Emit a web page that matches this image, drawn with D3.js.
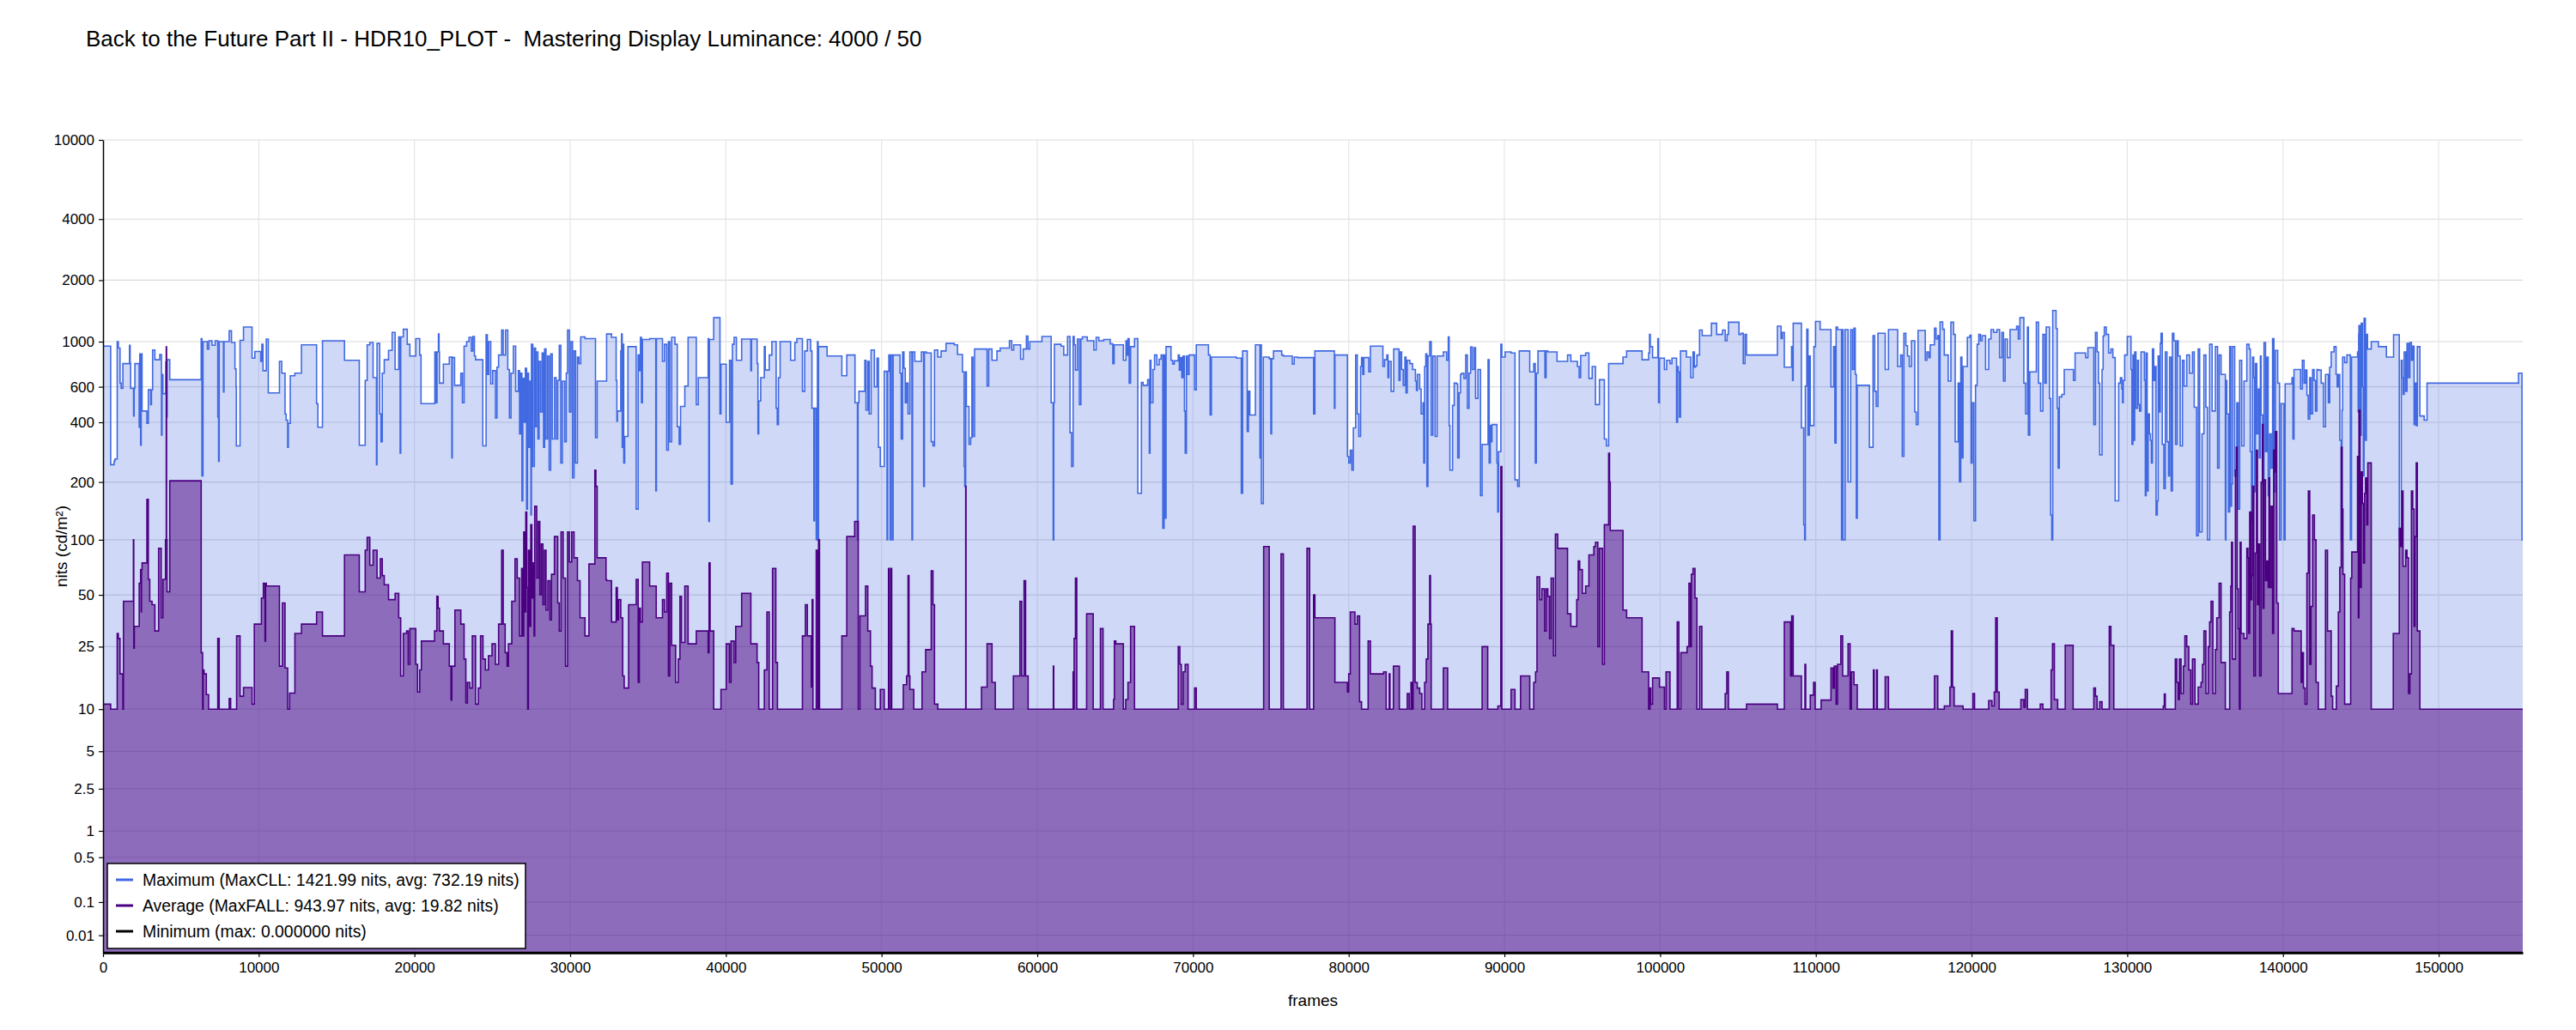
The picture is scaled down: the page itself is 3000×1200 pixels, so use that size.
<!doctype html>
<html lang="en">
<head>
  <meta charset="utf-8">
  <title>HDR10 plot</title>
  <style>
    body { margin: 0; background: #fff; }
    svg text { font-family: "Liberation Sans", Arial, sans-serif; fill: #000; }
  </style>
</head>
<body>
<div id="chart"></div>

<script src="https://cdnjs.cloudflare.com/ajax/libs/d3/7.8.5/d3.min.js"></script>
<script>

// ---- data ----
const title = "Back to the Future Part II - HDR10_PLOT -  Mastering Display Luminance: 4000 / 50"
const frameCount = 155400
const yTicks = [10000, 4000, 2000, 1000, 600, 400, 200, 100, 50, 25, 10, 5, 2.5, 1, 0.5, 0.1, 0.01]
const xTicks = [0, 10000, 20000, 30000, 40000, 50000, 60000, 70000, 80000, 90000, 100000, 110000, 120000, 130000, 140000, 150000]
const legendLabels = [
  "Maximum (MaxCLL: 1421.99 nits, avg: 732.19 nits)",
  "Average (MaxFALL: 943.97 nits, avg: 19.82 nits)",
  "Minimum (max: 0.000000 nits)"
]

// [frame, nits] breakpoints, value holds until the next frame
const maxSeries = [[0,950],[490,245],[710,255],[760,262],[910,1000],[980,930],[1090,625],[1165,590],[1275,780],[1700,960],[1740,780],[1771,590],[1960,430],[2000,590],[2046,780],[2321,378],[2360,870],[2413,307],[2450,870],[2505,455],[2817,395],[2909,580],[3060,490],[3110,580],[3184,910],[3330,815],[3643,865],[3753,345],[3790,690],[3845,555],[4028,795],[4080,425],[4120,815],[4285,650],[6303,1035],[6350,215],[6420,1000],[6700,920],[6800,1010],[7000,960],[7200,1010],[7368,425],[7420,255],[7460,1000],[7735,565],[7770,1000],[8102,1130],[8249,990],[8469,735],[8542,600],[8561,305],[8799,1015],[9020,1180],[9570,830],[9750,895],
  [10127,800],[10200,970],[10274,720],[10485,1030],[10612,560],[11329,800],[11477,700],[11688,440],[11760,410],[11857,300],[11900,395],[12026,680],[12321,700],[12743,965],[13714,495],[13798,378],[14093,1010],[15507,810],[16457,307],[16836,645],[16963,965],[17132,990],[17343,665],[17560,245],[17596,980],[17765,440],[17850,320],[17934,700],[18060,815],[18335,905],[18567,1110],[18757,730],[18989,1055],[19080,280],[19120,1055],[19284,1150],[19537,970],[19706,850],[20086,1035],[20339,860],[20423,495],[21310,890],[21400,500],[21450,890],[21540,1090],[21580,890],[21605,625],[21858,775],[22238,840],[22400,265],[22430,840],[22449,835],[22576,610],[22977,700],[23080,500],[23188,950],[23350,1000],[23504,1050],[23650,900],[23750,1060],[23850,850],[23926,815],[24390,305],[24601,1080],[24680,690],[24770,1000],[24900,620],[25023,720],[25200,420],[25300,750],[25403,860],[25600,1140],[25700,860],[25850,1140],[25994,730],[26100,420],[26200,700],[26353,950],[26500,570],[26669,720],
  [26750,350],[26820,700],[26900,160],[26960,660],[27050,400],[27120,740],[27200,145],[27260,700],[27330,300],[27420,640],[27480,135],[27513,970],[27600,240],[27700,930],[27780,380],[27830,890],[27930,330],[28000,800],[28100,450],[28200,880],[28290,300],[28357,920],[28450,330],[28550,850],[28650,230],[28750,870],[28850,330],[28990,665],[29100,330],[29201,645],[29300,960],[29400,250],[29500,640],[29650,320],[29750,700],[29834,1140],[29950,450],[30050,1000],[30150,210],[30250,900],[30350,250],[30467,840],[30560,780],[30678,1055],[30952,1035],[31627,335],[31733,640],
  [32341,1090],[32657,1050],[32953,645],[33000,405],[33037,455],[33248,900],[33300,1090],[33340,300],[33375,970],[33440,250],[33501,340],[33712,945],[34240,145],[34366,860],[34440,720],[34514,1050],[34580,500],[34641,1025],[35105,1035],[35500,180],[35540,1035],[35928,800],[36055,970],[36200,290],[36308,1000],[36400,320],[36519,1050],[36730,970],[36877,380],[37000,310],[37088,480],[37363,605],[37574,1050],[38101,490],[38228,665],[38861,1035],[38900,125],[38945,1025],[39219,1310],[39620,440],[39684,775],[40021,400],[40232,810],[40330,195],[40422,970],[40528,1050],[40675,810],[41013,1030],[41600,720],[41650,1030],[42005,780],[42060,350],[42110,510],[42237,665],[42469,945],[42530,725],[42595,725],[42785,860],[42954,1000],[43228,470],[43300,390],[43376,665],[43482,1000],[44157,810],[44431,990],[44558,1035],[44916,570],[45064,900],[45233,1025],[45444,900],[45528,470],[45650,126],[45700,470],[45803,100],[45880,1000],[45920,100],[45950,945],[46499,850],[47448,680],[47765,860],[48292,500],[48450,100],[48490,500],[48546,570],[48925,810],[49000,460],[49115,800],[49200,440],[49326,910],[49537,600],[49706,830],[49800,300],[49917,240],[50170,715],[50350,100],[50390,715],[50466,860],[50550,100],[50600,860],[50700,100],[50740,860],[51183,700],[51260,330],[51352,890],[51436,740],[51520,500],[51605,625],[51700,440],[51816,890],[51950,100],[51990,890],[52133,800],[52555,890],[52700,190],[52750,890],[52871,880],[53188,320],[53300,305],[53399,910],[53610,840],[53821,900],[54137,980],[54665,965],[54876,865],[55192,710],[55300,240],[55340,190],[55400,710],[55445,480],[55614,310],[55720,335],[55800,840],[55867,340],[55973,920],[56775,605],[56880,920],[57091,810],[57408,900],[57619,930],[58210,1010],[58357,910],[58484,965],[58927,820],[59096,920],[59300,1065],[59400,920],[59518,1000],[60298,1060],[60889,500],[61020,100],[61060,500],[61100,970],[61522,950],[61700,860],[61944,1060],[62100,355],[62200,240],[62300,1060],[62366,965],[62450,725],[62577,1030],[62700,490],[62800,1030],[62894,1055],[63210,1010],[63632,910],[63780,1050],[63950,1010],[64054,1010],[64265,1025],[64687,975],[64850,780],
  [64936,965],[65527,810],[65696,1010],[65760,860],[65822,1035],[65900,625],[65991,945],[66244,1035],[66455,175],[66687,630],[66793,610],[67088,650],[67194,280],[67240,810],[67299,500],[67426,730],[67531,860],[67679,770],[67827,820],[67953,860],[68059,115],[68143,860],[68210,130],[68270,945],[68586,810],[68692,775],[68797,805],[69051,860],[69120,725],[69199,835],[69280,665],[69367,850],[69450,455],[69500,280],[69578,850],[69650,690],[69747,860],[70106,580],[70211,965],[70992,860],[71100,435],[71182,840],[72785,830],[73102,175],[73186,900],[73482,360],[73560,570],[73650,435],[74009,965],[74300,265],[74340,965],[74389,155],[74515,840],[74895,825],[75000,350],[75050,825],[75170,900],[75697,860],[75803,850],[76372,775],[76499,840],[76710,835],[77744,440],[77828,900],[79080,470],[79115,860],[79917,270],[80000,250],[80100,290],[80200,230],[80297,375],[80445,860],[80550,440],[80650,340],[80761,755],[80824,835],[80900,690],[80972,835],[81289,710],[81394,950],[82196,755],[82300,815],[82449,860],[82520,665],[82576,800],[82723,570],[82892,920],[83230,645],[83300,890],[83399,730],[83500,610],[83610,840],[83680,560],[83757,810],[83926,780],[84100,730],[84285,640],[84350,575],[84411,690],[84559,585],[84650,440],[84770,500],[84820,250],[84876,755],[84950,870],[85020,190],[85087,850],[85200,1000],[85300,345],[85403,850],[85550,340],[85677,850],[86078,890],[86289,810],[86395,1055],[86450,385],[86500,230],[86669,485],[86775,625],[86922,620],[87000,265],[87091,560],[87180,690],[87260,700],[87400,660],[87513,860],[87620,470],[87724,700],[87830,940],[87935,730],[88050,935],[88146,525],[88300,730],[88463,170],[88568,310],[88948,815],[89020,250],[89096,385],[89150,320],[89201,390],[89518,250],[89570,140],[89623,285],[89771,970],[89834,840],[90045,890],[90425,880],[90678,205],[90847,190],[90952,900],[91627,710],[91881,780],[91980,250],[92050,700],[92155,900],[92600,665],[92680,900],[92788,890],[93379,800],[94054,860],[94265,800],[94687,755],[94800,665],[94898,855],[95215,880],[95426,660],[95637,755],[95848,490],[96101,650],[96417,330],[96550,305],[96692,780],
  [97616,840],[97848,900],[98840,815],[99262,880],[99320,1085],[99367,945],[99515,835],[99852,1035],[99900,500],[99958,830],[100274,730],[100422,810],[100633,780],[100760,830],[101055,400],[101120,755],[101160,710],[101240,425],[101308,900],[101688,840],[101962,665],[102110,890],[102200,750],[102279,760],[102363,860],[102532,1140],[102701,1070],[103292,1230],[103629,1085],[104009,1140],[104178,1010],[104300,1085],[104389,1245],[105064,1085],[105200,1100],[105338,780],[105450,1085],[105549,860],[107533,1190],[107765,1035],[107849,1110],[107976,750],[108440,945],[108500,645],[108546,1230],[109073,375],[109221,120],[109280,100],[109326,605],[109420,1150],[109495,345],[109580,850],[109643,385],[109875,945],[109980,1255],[110276,1145],[110972,600],[111141,945],[111220,315],[111300,1180],[111394,1145],[111650,100],[111700,1145],[111753,100],[111879,1145],[112069,200],[112238,1145],[112350,730],[112449,1165],[112530,690],[112600,130],[112660,610],[113441,300],[113673,1070],[113780,570],[113880,480],[113989,1100],[114454,730],[114665,1145],[115255,755],[115445,860],[115550,270],[115656,1100],[115780,955],[115888,850],[116000,755],[116142,1010],[116353,450],[116450,390],[116564,1135],[117028,810],[117133,890],[117250,835],[117344,965],[117619,1165],[117720,1030],[117830,1070],[117900,100],[117977,1250],[118146,1150],[118250,860],[118399,860],[118500,640],[118674,1245],[118842,1085],[118950,320],[119138,625],[119220,200],[119307,840],[119380,265],[119454,755],[119729,1050],[119897,1075],[119970,250],[120045,500],[120150,126],[120256,610],[120360,970],[120467,1085],[120570,1010],[120678,1070],[120900,730],[121100,1030],[121250,1145],[121417,1110],[121628,1145],[121800,835],[121944,1110],[122050,640],[122155,1030],[122300,835],[122472,1145],[122894,1190],[123000,1030],[123105,1310],[123358,625],[123470,440],[123590,1180],[123650,345],[123738,710],[124160,1245],[124300,625],[124434,455],[124582,1085],[124700,625],[124793,1180],[125004,525],[125080,135],[125150,100],[125215,1420],[125426,1160],[125500,470],[125560,235],[125637,535],[125800,550],[125953,730],[126544,645],[126649,880],[127325,835],[127472,935],[127852,390],[127958,1110],[128063,890],[128150,625],[128232,275],[128380,730],[128450,1065],[128527,1180],[128650,1085],[128802,880],[128950,920],[129076,835],[129224,160],[129449,625],[129559,665],[129651,585],[129700,500],[129743,645],[129835,860],
  [130000,1060],[130239,730],[130300,310],[130367,860],[130420,325],[130478,890],[130560,470],[130661,810],[130720,490],[130790,455],[130882,890],[131102,645],[131160,170],[131212,880],[131280,180],[131341,440],[131420,350],[131488,325],[131550,250],[131617,920],[131700,645],[131764,755],[131850,135],[131930,160],[131984,850],[132060,450],[132120,980],[132168,1100],[132250,310],[132350,185],[132443,890],[132550,320],[132650,215],[132719,840],[132820,180],[132900,1100],[132994,1010],[133100,310],[133200,1010],[133270,850],[133400,305],[133545,810],[133650,605],[133821,860],[134000,700],[134188,890],[134300,475],[134450,105],[134556,920],[134650,110],[134800,350],[134923,860],[135050,475],[135150,100],[135291,970],[135450,455],[135658,945],[135800,235],[135900,860],[136025,690],[136301,100],[136340,645],[136393,440],[136500,140],[136577,945],[136650,150],[136700,195],[136760,945],[136900,215],[137036,500],[137120,145],[137219,810],[137350,305],[137495,640],[137679,970],[137826,920],[137900,285],[137980,126],[138046,840],[138120,665],[138180,178],[138230,780],[138320,350],[138413,585],[138480,265],[138550,850],[138597,435],[138700,195],[138781,990],[138880,285],[138964,840],[139050,170],[139148,350],[139240,235],[139332,1035],[139420,178],[139516,905],[139663,625],[139780,100],[139883,495],[140067,100],[140140,620],[140581,665],[140640,330],[140710,730],[141132,585],[141243,810],[141353,625],[141450,725],[141536,545],[141620,415],[141720,665],[141800,440],[141904,730],[142000,645],[142087,455],[142180,730],[142271,725],[142455,625],[142600,380],[142730,690],[142914,500],[143000,750],[143098,890],[143282,945],[143410,690],[143480,600],[143557,690],[143650,325],[143741,100],[143790,460],[143833,840],[143961,790],[144108,860],[144329,100],[144402,840],[144788,890],[144830,450],[144860,1085],[144880,1200],[144950,345],[145027,1230],[145100,600],[145160,215],[145210,1300],[145290,325],[145357,1085],[145431,920],[145670,1000],[146129,945],[146643,840],[147103,1080],[147470,100],[147598,810],[147660,665],[147720,550],[147782,890],[147880,570],[147966,980],[148060,665],[148150,990],[148250,810],[148333,950],[148420,390],[148480,625],[148560,385],[148627,945],[148793,430],[149068,410],[149252,625],[155130,700],[155350,100],[155400,100]]

const avgSeries = [[0,10.8],[490,10],[910,30],[980,28],[1090,17],[1275,10],[1312,46],[1950,100],[1975,24.5],[2010,33],[2321,58],[2413,69],[2450,40],[2470,69],[2505,75],[2817,163],[2909,61],[3000,46],[3148,44],[3330,31],[3569,90],[3735,37],[3845,61],[4010,100],[4060,944],[4080,100],[4110,52],[4285,203],[6303,23],[6395,10],[6430,18],[6487,17],[6634,12.5],[6780,10],[7368,28],[7460,10],[8102,11.8],[8195,10],[8579,29],[8799,12.2],[9020,13.9],[9570,10.8],[9716,34],
  [10169,48],[10295,58],[10400,27],[10440,58],[10485,56],[11329,19],[11519,45],[11688,18.5],[11857,10],[11983,12.8],[12321,30],[12743,34],[13714,40],[14093,29],[15507,83],[16457,52],[16836,88],[16963,103],[17132,73],[17343,88],[17596,62],[17807,79],[17934,64],[18060,57],[18335,47],[18757,51],[18989,37],[19115,16.5],[19284,30],[19495,31],[19600,19.5],[19706,32],[20086,19.5],[20200,13],[20339,18],[20445,27],[21289,31],[21436,49],[21520,42],[21605,31],[21858,26],[22238,19],[22350,11.5],[22400,19],[22597,41],[22977,34],[23188,21],[23300,11],[23399,15],[23550,13.8],[23715,29],[23926,10.8],[24100,13.8],[24243,29],[24400,21],[24559,18],[24750,22],[24981,26],[25200,19.5],[25403,34],[25600,88],[25700,34],[25825,23],[25950,19],[26036,26],[26250,46],[26458,79],[26600,62],[26750,29],
  [26880,70],[26950,29],[27020,110],[27090,40],[27150,140],[27210,55],[27270,10],[27320,88],[27400,33],[27470,120],[27540,48],[27620,75],[27680,29],[27724,150],[27850,62],[27950,125],[28050,50],[28146,95],[28250,44],[28350,88],[28450,41],[28568,60],[28700,36],[28800,65],[28990,104],[29201,45],[29300,31],[29412,110],[29550,62],[29700,19],[29834,110],[29950,76],[30100,110],[30250,80],[30467,60],[30636,37],[30952,29],[31205,74],[31585,230],[31650,190],[31733,80],[32303,61],
  [32341,60],[32657,35],[32953,55],[33030,36],[33101,47],[33250,37],[33375,16.5],[33470,13.8],[33754,44],[34240,61],[34366,15],[34440,42],[34514,35],[34641,76],[35105,56],[35527,37],[35928,47],[36055,40],[36200,66],[36308,16.5],[36400,58],[36519,25.5],[36772,15],[36941,21],[37050,49],[37152,26.5],[37363,56],[37574,26],[38101,31],[38861,23],[38920,75],[38987,31],[39219,10],[39684,13.5],[40021,26],[40232,15],[40330,27],[40530,20],[40633,33],[41013,51],[41604,26],[42005,20],[42110,10],[42469,18],[42638,40],[42785,10],[42996,70],[43207,20],[43313,10],[44916,29],[45106,44],[45233,29],[45486,14],[45540,47],[45592,10],[45803,88],[45900,10],[45950,100],[46014,10],[47448,29],[47765,104],[48271,125],[48503,10],[48609,38],[48968,56],[49115,31],[49284,19],[49390,13.8],[49600,10],[49917,13.5],[50170,10],[50445,70],[50500,10],[50600,70],[50650,10],[51394,14.5],[51605,16.5],[51700,64],[51760,16.5],[51816,13.5],[52069,10],[52597,17.5],[52829,24],[53188,68],[53300,44],[53399,10.8],[53610,10],[55403,190],[55424,10],[56416,14],[56775,26],[57091,15],[57302,10],[58463,16.5],[58885,46],[59000,16.5],[59150,60],[59250,16.5],[59412,10],[61030,19],[61058,10],[62300,17.5],[62324,10],[62366,28],[62450,62],[62535,10],[63168,39],[63590,10],[64054,32],[64223,10],[64898,11.6],[64950,27],
  [65042,26],[65527,10],[65675,11.6],[65822,15],[65991,33],[66244,10],[69051,25],[69156,19.5],[69250,10.8],[69367,17.5],[69500,19.5],[69684,10],[70106,13.8],[70211,10],[74537,92],[74895,10],[75655,84],[75803,10],[77322,90],[77491,10],[77744,50],[77828,37],[79115,15],[79917,13],[80000,17],[80100,40],[80400,34],[80550,38],[80698,11.2],[80824,10],[81247,27],[81394,17],[82238,17.5],[82407,10],[82600,17],[82650,10],[82871,19],[83251,10],[83757,12.7],[83884,10],[84000,15],[84050,10],[84137,118],[84264,15],[84400,13.8],[84559,12.7],[84700,10],[84876,15],[84980,21],[85087,34],[85200,64],[85250,34],[85298,10],[86078,18.5],[86353,10],[88568,25],[88927,10],[89581,10.5],[89771,240],[89834,10],[90425,13.5],[90678,10],[91037,16.5],[91627,10],[91881,15],[92000,17.5],[92092,63],[92261,47],[92400,54],[92577,31],[92680,54],[92788,49],[92900,28],[92999,62],[93147,22],[93273,107],[93421,90],[94054,39],[94265,33],[94645,47],[94740,77],[94835,69],[95004,51],[95215,56],[95426,83],[95742,92],[95848,97],[96000,25],[96101,90],[96300,19.5],[96417,120],[96692,280],[96750,200],[96797,112],
  [97616,41],[97848,37],[98840,17.5],[99262,10],[99350,13.8],[99400,10.8],[99515,16],[99958,14],[100274,10],[100380,17.5],[100633,10],[101097,35],[101203,10],[101329,23],[101730,25],[101850,58],[101950,25],[102005,65],[102110,70],[102237,48],[102363,10],[102532,33],[102680,10],[104178,12.7],[104280,17.5],[104389,10],[105549,10.8],[107533,10],[107976,35],[108377,16.5],[108450,38],[108546,16.5],[109073,10],[109300,19.5],[109350,10],[109643,12.4],[109854,15],[109959,10],[110339,11.5],[110972,18.5],[111100,13.8],[111183,19],[111300,10.8],[111394,19.5],[111605,29],[111720,16.5],[112069,26],[112200,10],[112280,17.5],[112450,14.5],[112660,10],[113700,18],[113750,10],[113900,18],[113950,10],[114454,16.3],[114665,10],[117619,16.5],[117830,10],[118252,10.5],[118610,14],[118700,31],[118780,14],[118884,10.5],[119454,10],[120087,12.7],[120193,10],[121100,11.4],[121311,10.5],[121459,13],[121550,37],[121650,13],[121775,10],[123168,11.6],[123358,10.3],[123450,13.5],[123590,10],[124413,10.8],[124582,10],[125109,18],[125200,26],[125320,11.6],[125531,10],[126016,25.5],[126523,10],[127852,13.8],[127958,12.2],[128063,10],[128232,11.2],[128380,10],[128844,33],[128949,25.5],[129137,10],
  [132315,10.5],[132380,12.6],[132443,10],[133086,21],[133180,15],[133280,11.6],[133350,21],[133454,12.7],[133600,19],[133700,29],[133821,25],[133950,18],[134080,10.8],[134188,21],[134350,10.8],[134556,14],[134740,15],[134830,19.5],[134923,31],[135050,12.7],[135199,25],[135290,35],[135382,46],[135500,12.7],[135658,24],[135750,37],[135900,58],[136025,20],[136300,10],[136577,40],[136650,56],[136700,97],[136760,21],[136944,230],[137000,300],[137060,54],[137128,32],[137200,10],[137250,97],[137311,30],[137495,28],[137679,90],[137750,80],[137800,30],[137862,140],[137950,47],[138000,64],[138046,190],[138130,16.5],[138230,85],[138300,290],[138360,44],[138413,95],[138500,16.5],[138597,200],[138680,390],[138720,42],[138781,205],[138880,60],[138964,77],[139050,55],[139100,210],[139148,55],[139240,150],[139332,30],[139400,290],[139450,225],[139516,360],[139600,45],[139700,12.7],[140581,32],[140710,31],[141169,15],[141250,23],[141316,13.8],[141420,10.8],[141536,66],[141630,180],[141720,19.5],[141800,43],[141904,135],[142020,100],[142124,15],[142271,10],[142730,88],[142859,31],[143098,12.2],[143190,10],[143429,14.2],[143557,40],[143650,71],[143741,300],[143800,145],[143851,65],[143961,10.8],[144347,62],[144420,86],[144788,270],[144840,37],[144880,460],[144950,55],[145027,225],[145100,155],[145174,75],[145240,175],[145302,210],[145380,120],[145449,250],[145670,10],[147084,30],[147470,115],[147550,92],[147635,180],[147710,72],[147782,72],[147880,88],[147966,80],[148060,12.7],[148150,17],[148250,180],[148333,145],[148420,33],[148480,104],[148560,250],[148627,31],[148793,10],[155400,10]]

const minSeries = [[0,0],[155400,0]]

// ---- SMPTE ST 2084 (PQ) inverse EOTF: nits -> signal 0..1 ----
function pq(nits) {
  const m1 = 2610 / 16384, m2 = 2523 / 4096 * 128
  const c1 = 3424 / 4096, c2 = 2413 / 4096 * 32, c3 = 2392 / 4096 * 32
  const p = Math.pow(Math.max(nits, 0) / 10000, m1)
  return Math.pow((c1 + c2 * p) / (1 + c3 * p), m2)
}

const W = 3000, H = 1200
const margin = { top: 163, right: 62, bottom: 90, left: 120 }
const plotBottom = H - margin.bottom
const plotRight = W - margin.right

const x = d3.scaleLinear().domain([0, frameCount]).range([margin.left, plotRight])
const ySig = d3.scaleLinear().domain([0, 1]).range([plotBottom, margin.top])
const y = v => ySig(pq(v))

const svg = d3.select("#chart").append("svg")
  .attr("width", W)
  .attr("height", H)

// title
svg.append("text")
  .attr("x", 100)
  .attr("y", 54)
  .style("font-size", "26px")
  .style("white-space", "pre")
  .text(title)

// grid
const grid = svg.append("g")
grid.selectAll("line.h").data(yTicks).enter().append("line")
  .attr("x1", margin.left).attr("x2", plotRight)
  .attr("y1", d => y(d)).attr("y2", d => y(d))
  .attr("stroke", "#dadada").attr("stroke-width", 1.2)
grid.selectAll("line.v").data(xTicks.slice(1)).enter().append("line")
  .attr("x1", d => x(d)).attr("x2", d => x(d))
  .attr("y1", margin.top).attr("y2", plotBottom)
  .attr("stroke", "#e6e6e6").attr("stroke-width", 1.2)

// series
const area = d3.area()
  .x(d => x(d[0]))
  .y0(plotBottom)
  .y1(d => y(d[1]))
  .curve(d3.curveStepAfter)

const line = d3.line()
  .x(d => x(d[0]))
  .y(d => y(d[1]))
  .curve(d3.curveStepAfter)

const series = [
  { data: maxSeries, color: "#4169e1", fill: 0.25 },
  { data: avgSeries, color: "#4b0082", fill: 0.5 },
  { data: minSeries, color: "#000000", fill: 0.5 }
]

series.forEach(s => {
  svg.append("path")
    .attr("d", area(s.data))
    .attr("fill", s.color)
    .attr("fill-opacity", s.fill)
  svg.append("path")
    .attr("d", line(s.data))
    .attr("fill", "none")
    .attr("stroke", s.color)
    .attr("stroke-width", s.data === minSeries ? 2.5 : 1.6)
})

// axes
const yAxis = d3.axisLeft(ySig)
  .tickValues(yTicks.map(pq))
  .tickFormat((d, i) => yTicks[i])
  .tickSize(5)
  .tickPadding(5)
  .tickSizeOuter(0)

const xAxis = d3.axisBottom(x)
  .tickValues(xTicks)
  .tickFormat(d3.format("d"))
  .tickSize(5)
  .tickPadding(6)
  .tickSizeOuter(0)

const gy = svg.append("g")
  .attr("transform", "translate(" + margin.left + ",0)")
  .call(yAxis)
const gx = svg.append("g")
  .attr("transform", "translate(0," + plotBottom + ")")
  .call(xAxis)

;[gx, gy].forEach(g => {
  g.selectAll("text").style("font-size", "17px").attr("fill", "#000")
  g.selectAll("line").attr("stroke", "#000").attr("stroke-width", 1.2)
  g.select(".domain").attr("stroke", "#000").attr("stroke-width", 1.5)
})
gx.select(".domain").attr("stroke-width", 2.5)

// axis labels
svg.append("text")
  .attr("transform", "translate(78," + ((margin.top + plotBottom) / 2) + ") rotate(-90)")
  .attr("text-anchor", "middle")
  .style("font-size", "19px")
  .text("nits (cd/m²)")

svg.append("text")
  .attr("x", (margin.left + plotRight) / 2)
  .attr("y", 1172)
  .attr("text-anchor", "middle")
  .style("font-size", "19px")
  .text("frames")

// legend
const legend = svg.append("g").attr("transform", "translate(125,1006)")
legend.append("rect")
  .attr("width", 487).attr("height", 99)
  .attr("fill", "#fff")
  .attr("stroke", "#000").attr("stroke-width", 1.5)

series.forEach((s, i) => {
  const cy = 19 + i * 30
  legend.append("line")
    .attr("x1", 10).attr("x2", 30)
    .attr("y1", cy).attr("y2", cy)
    .attr("stroke", s.color).attr("stroke-width", 3)
  legend.append("text")
    .attr("x", 41).attr("y", cy + 7)
    .style("font-size", "19.4px")
    .text(legendLabels[i])
})

</script>
</body>
</html>
